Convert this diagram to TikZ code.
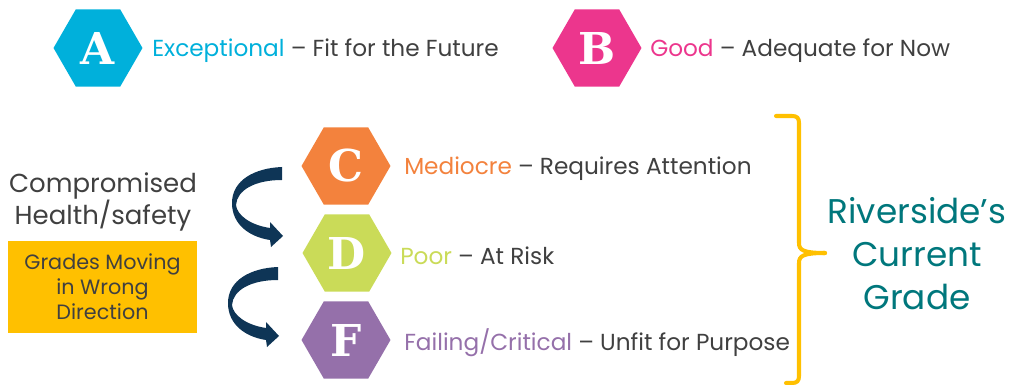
\documentclass[tikz,border=0pt]{standalone}
\usepackage{fontspec}
\setmainfont{Poppins}
\newfontfamily\slabfont{DejaVu Serif}
\usetikzlibrary{positioning,shapes.geometric}

\definecolor{gradeA}{HTML}{00B0DB}
\definecolor{gradeB}{HTML}{EC368D}
\definecolor{gradeC}{HTML}{F3823D}
\definecolor{gradeD}{HTML}{CADB58}
\definecolor{gradeF}{HTML}{9570AA}
\definecolor{txtgray}{HTML}{404040}
\definecolor{rivteal}{HTML}{00777C}
\definecolor{gold}{HTML}{FFC000}
\definecolor{navy}{HTML}{0E3556}

\tikzset{
  hexa/.style={regular polygon, regular polygon sides=6, minimum size=1.78cm,
    inner sep=0pt, text=white, font=\slabfont\bfseries\fontsize{25}{25}\selectfont},
  grade/.style={anchor=west, inner sep=0pt, text=txtgray, yshift=-0.05cm,
    font=\fontsize{13.2}{15}\selectfont},
  curvearrow/.pic={
    \fill[navy] (0,0) .. controls (-27,1) and (-50,13) .. (-50,36)
      .. controls (-50,58) and (-32,70) .. (-12,73) -- (-11,80) -- (1,69)
      -- (-12,55) -- (-12,61) .. controls (-32,58) and (-45,48) .. (-46,38)
      .. controls (-45,23) and (-27,13) .. (0,13) -- cycle;
  }
}

\begin{document}
\begin{tikzpicture}[x=0.02cm, y=-0.02cm]
\useasboundingbox (0,0) rectangle (1015,385);

% grade hexagons
\node[hexa, fill=gradeA] (A) at (98,48) {A};
\node[hexa, fill=gradeB] (B) at (597,48) {B};
\node[hexa, fill=gradeC] (C) at (346,166) {C};
\node[hexa, fill=gradeD] (D) at (347,253) {D};
\node[hexa, fill=gradeF] (F) at (346,340) {F};

% grade descriptions
\node[grade, right=0.18cm of A] (Atxt) {\textcolor{gradeA}{Exceptional} – Fit for the Future};
\node[grade, right=0.16cm of B] (Btxt) {\textcolor{gradeB}{Good} – Adequate for Now};
\node[grade, right=0.26cm of C] (Ctxt) {\textcolor{gradeC}{Mediocre} – Requires Attention};
\node[grade, right=0.16cm of D] (Dtxt) {\textcolor{gradeD}{Poor} – At Risk};
\node[grade, right=0.26cm of F] (Ftxt) {\textcolor{gradeF}{Failing/Critical} – Unfit for Purpose};

% moving down
\pic at (282,167) {curvearrow};
\pic at (278,267) {curvearrow};

\node[text=txtgray, align=center, font=\fontsize{14.8}{18.5}\selectfont]
  (health) at (103,202) {Compromised\\Health/safety};
\node[fill=gold, text=txtgray, align=center, minimum width=3.78cm, minimum height=1.84cm,
  font=\fontsize{11.8}{14.2}\selectfont] (wrong) at (102.5,287)
  {Grades Moving\\in Wrong\\Direction};

% brace
\draw[gold, line width=2.3pt, line cap=round, line join=round]
  (776,116) -- (792,116) .. controls (797,116) and (799,118) .. (799,123) -- (799,243)
  .. controls (799,250) and (803,253) .. (825,253);
\draw[gold, line width=2.3pt, line cap=round, line join=round]
  (825,253) .. controls (803,253) and (799,256) .. (799,263) -- (799,376)
  .. controls (799,381) and (797,383) .. (792,383) -- (786,383);
\coordinate (tip) at (825,253);

\node[text=rivteal, align=center, font=\fontsize{19.5}{24.5}\selectfont]
  (current) at (917,254) {Riverside’s\\Current\\Grade};
\end{tikzpicture}
\end{document}
